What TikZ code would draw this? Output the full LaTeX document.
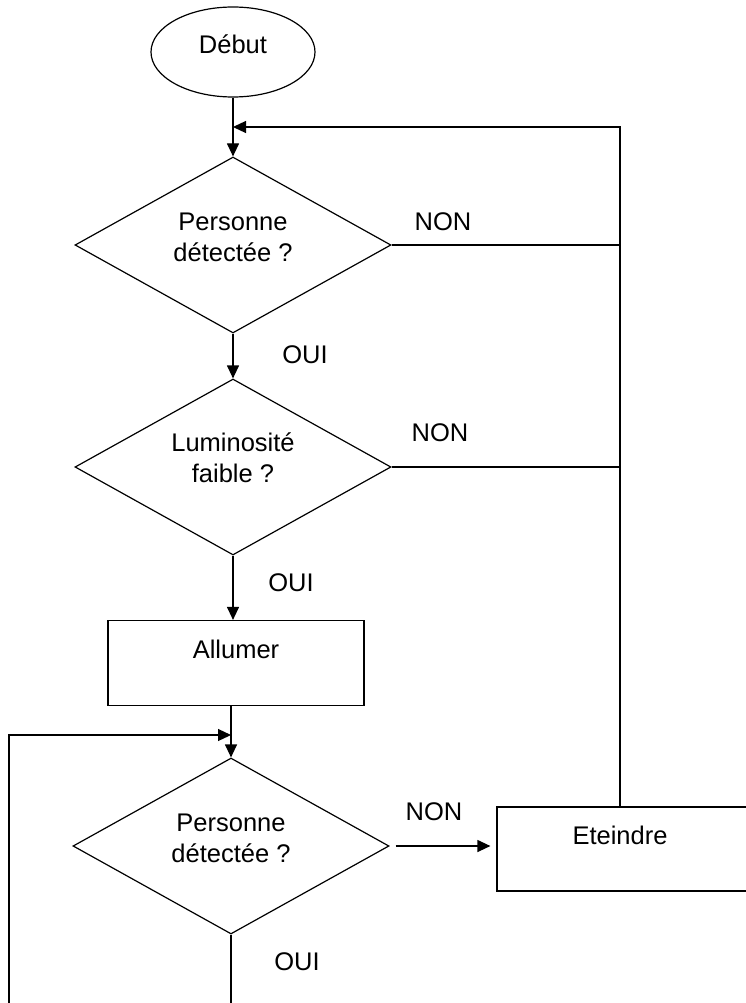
\documentclass[tikz,border=0pt]{standalone}
\usepackage{fontspec}
\setmainfont{Liberation Sans}
\usetikzlibrary{shapes.geometric,arrows.meta}

\begin{document}
\begin{tikzpicture}[x=1pt,y=-1pt,line width=1.2pt,
  every node/.style={font=\fontsize{25.5}{31}\selectfont},
  dec/.style={draw,diamond,minimum width=316pt,minimum height=176pt,inner sep=0pt},
  box/.style={draw,rectangle,inner sep=0pt},
  txt/.style={align=center,inner sep=0pt},
  arr/.style={-{Triangle[length=13pt,width=12pt]}}]
\useasboundingbox (0,0) rectangle (746,1003);
%\draw[help lines](0,0)grid(746,1003);
% shapes
\node[draw,ellipse,minimum width=164pt,minimum height=90pt] (debut) at (233,52) {};
\node[dec] (d1) at (233,245) {};
\node[dec] (d2) at (233,467) {};
\node[box,minimum width=256pt,minimum height=85pt] (allumer) at (236,663) {};
\node[dec] (d3) at (231,846) {};
\node[box,minimum width=254pt,minimum height=84pt] (eteindre) at (624,849) {};
% texts
\node[txt] (tdebut) at ([yshift=8pt]debut) {Début};
\node[txt] (t1) at ([yshift=8pt]d1) {Personne\\détectée ?};
\node[txt] (t2) at ([yshift=9pt]d2) {Luminosité\\faible ?};
\node[txt] (tallumer) at ([yshift=14pt]allumer) {Allumer};
\node[txt] (t3) at ([yshift=8pt]d3) {Personne\\détectée ?};
\node[txt] (teteindre) at ([xshift=-4pt,yshift=14pt]eteindre) {Eteindre};
\node (non1) at (443,222) {NON};
\node (oui1) at (305,355) {OUI};
\node (non2) at (440,433) {NON};
\node (oui2) at (291,583) {OUI};
\node (non3) at (434,812) {NON};
\node (oui3) at (297,962) {OUI};
% connectors
\coordinate (j1) at (233,127);
\coordinate (j2) at (231,735);
\coordinate (l0) at (9,1010);
\coordinate (r0) at ([xshift=-4pt]eteindre.north);
\draw[arr] (debut.south)--(d1.north);
\draw[arr] (r0) |- (j1);
\draw (d1.east)--(d1.east -| r0);
\draw[arr] (d1.south)--(d2.north);
\draw (d2.east)--(d2.east -| r0);
\draw[arr] (d2.south)--(d2.south |- allumer.north);
\draw[arr] (d3.north |- allumer.south)--(d3.north);
\draw[arr] (l0) |- (j2);
\draw[arr] ([xshift=6pt]d3.east)--([xshift=-6pt]d3.east -| eteindre.west);
\draw (d3.south)--++(0,80);
\end{tikzpicture}
\end{document}
